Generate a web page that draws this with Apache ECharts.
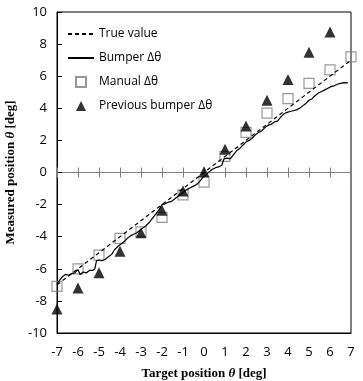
<!DOCTYPE html>
<html><head><meta charset="utf-8">
<script src="https://cdn.jsdelivr.net/npm/echarts@6/dist/echarts.min.js"></script>
<style>html,body{margin:0;padding:0;background:#fff}#c{width:363px;height:381px}</style>
</head><body><div id="c"></div>
<script>
var xTicks = [-7,-6,-5,-4,-3,-2,-1,0,1,2,3,4,5,6,7];
var trueValue = [[-7,-7],[7,7]];
var manualX = [-7,-6,-5,-4,-3,-2,-1,0,1,2,3,4,5,6,7];
var manualY = [-7.1,-6.0,-5.15,-4.1,-3.7,-2.8,-1.4,-0.6,1.0,2.5,3.7,4.6,5.55,6.4,7.2];
var prevX = [-7,-6,-5,-4,-3,-2,-1,0,1,2,3,4,5,6];
var prevY = [-8.5,-7.2,-6.25,-4.9,-3.75,-2.35,-1.15,0.05,1.45,2.9,4.5,5.8,7.5,8.75];
var bumperX = [-7.0,-6.9,-6.75,-6.6,-6.45,-6.3,-6.15,-6.0,-5.9,-5.75,-5.6,-5.45,-5.3,-5.2,-5.12,-5.0,-4.85,-4.7,-4.55,-4.4,-4.25,-4.1,-3.95,-3.8,-3.65,-3.5,-3.35,-3.2,-3.05,-2.9,-2.75,-2.6,-2.45,-2.3,-2.15,-2.0,-1.85,-1.7,-1.55,-1.4,-1.25,-1.1,-0.95,-0.8,-0.65,-0.5,-0.35,-0.2,-0.05,0.1,0.25,0.4,0.55,0.7,0.85,0.95,1.1,1.25,1.4,1.55,1.7,1.85,2.0,2.15,2.3,2.45,2.6,2.75,2.9,3.05,3.2,3.35,3.5,3.65,3.8,3.95,4.1,4.25,4.4,4.55,4.7,4.85,5.0,5.15,5.3,5.45,5.6,5.75,5.9,6.05,6.2,6.35,6.5,6.65,6.8,6.85];
var bumperY = [-6.95,-6.75,-6.5,-6.35,-6.4,-6.3,-6.25,-6.05,-6.35,-6.2,-6.25,-6.1,-6.1,-6.0,-5.5,-5.45,-5.5,-5.4,-5.25,-5.1,-4.8,-4.6,-4.45,-4.3,-4.1,-3.95,-3.85,-3.75,-3.6,-3.45,-3.3,-3.1,-2.85,-2.6,-2.35,-2.0,-1.95,-1.85,-1.8,-1.65,-1.5,-1.35,-1.2,-1.05,-0.95,-0.85,-0.75,-0.55,-0.3,-0.15,0.05,0.2,0.3,0.35,0.45,0.85,0.9,0.85,1.1,1.35,1.5,1.7,1.9,2.0,2.15,2.35,2.5,2.6,2.8,2.95,3.0,3.15,3.2,3.45,3.65,3.75,3.8,3.85,3.9,4.0,4.15,4.3,4.5,4.6,4.8,4.95,5.05,5.15,5.25,5.35,5.4,5.5,5.55,5.6,5.58,5.6];

function zip(a,b){return a.map(function(v,i){return [v,b[i]];});}

var chart = echarts.init(document.getElementById('c'));
var nameRich = {
  b:{fontFamily:'Liberation Serif',fontWeight:'bold',fontSize:13,color:'#000'},
  i:{fontFamily:'Liberation Serif',fontWeight:'bold',fontStyle:'italic',fontSize:13,color:'#000'}
};
var labelFont = {fontFamily:'Open Sans',fontSize:13,color:'#000'};
var xMin = xTicks[0], xMax = xTicks[xTicks.length-1];
chart.setOption({
  animation:false,
  grid:{left:57,right:12,top:12,bottom:48,show:true,borderColor:'#000',borderWidth:1,outerBoundsMode:'none',containLabel:false},
  legend:{
    orient:'vertical',left:67,top:28,padding:0,itemWidth:26,itemHeight:10,itemGap:12,symbolKeepAspect:true,
    textStyle:{fontFamily:'Open Sans',fontSize:12,color:'#000'},
    data:[
      {name:'True value',itemStyle:{opacity:0}},
      {name:'Bumper \u0394\u03b8',itemStyle:{opacity:0}},
      {name:'Manual \u0394\u03b8',icon:'path://M0,0H10V10H0Z'},
      {name:'Previous bumper \u0394\u03b8',icon:'path://M5,0L10,10L0,10Z'}
    ]
  },
  xAxis:[
    {type:'value',min:xMin,max:xMax,interval:1,position:'bottom',
     axisLine:{onZero:false,lineStyle:{color:'#000',width:1}},
     axisTick:{show:false},
     axisLabel:Object.assign({margin:13},labelFont),
     splitLine:{show:false},
     name:'{b|Target position }{i|\u03b8}{b| [deg]}',nameLocation:'middle',nameGap:34,
     nameTextStyle:{rich:nameRich}},
    {type:'value',min:xMin,max:xMax,interval:1,position:'bottom',
     axisLine:{onZero:true,onZeroAxisIndex:0,lineStyle:{color:'#808080',width:1}},
     axisTick:{inside:false,length:5,lineStyle:{color:'#808080'}},
     axisLabel:{show:false},splitLine:{show:false}},
    {type:'value',min:xMin,max:xMax,interval:1,position:'top',
     axisLine:{onZero:true,onZeroAxisIndex:0,lineStyle:{color:'#808080',width:1}},
     axisTick:{inside:false,length:5,lineStyle:{color:'#808080'}},
     axisLabel:{show:false},splitLine:{show:false}}
  ],
  yAxis:{type:'value',min:-10,max:10,interval:2,position:'left',
    axisLine:{onZero:false,lineStyle:{color:'#000'}},
    axisTick:{inside:true,length:5,lineStyle:{color:'#000'}},
    axisLabel:Object.assign({margin:10},labelFont),
    splitLine:{show:false},
    name:'{b|Measured position }{i|\u03b8}{b| [deg]}',nameLocation:'middle',nameGap:39,
    nameTextStyle:{rich:nameRich}},
  series:[
    {name:'True value',type:'line',data:trueValue,symbol:'none',
     lineStyle:{color:'#000',width:1.2,type:[4,3]},itemStyle:{color:'#000'}},
    {name:'Bumper \u0394\u03b8',type:'line',data:zip(bumperX,bumperY),symbol:'none',
     lineStyle:{color:'#000',width:1.2},itemStyle:{color:'#000'}},
    {name:'Manual \u0394\u03b8',type:'scatter',data:zip(manualX,manualY),symbol:'rect',symbolSize:10,
     itemStyle:{color:'rgba(255,255,255,0)',borderColor:'#7f7f7f',borderWidth:1.2}},
    {name:'Previous bumper \u0394\u03b8',type:'scatter',data:zip(prevX,prevY),symbol:'triangle',symbolSize:11,
     itemStyle:{color:'#000'}}
  ]
});
</script></body></html>
